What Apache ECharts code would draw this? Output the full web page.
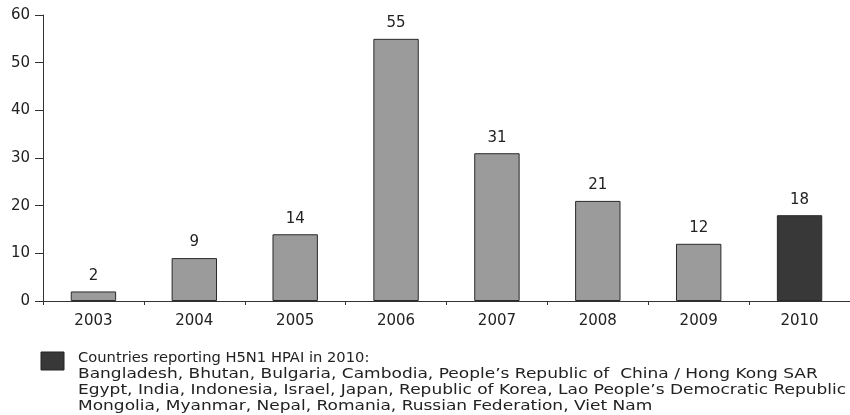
<!DOCTYPE html>
<html>
<head>
<meta charset="utf-8">
<script src="https://cdn.jsdelivr.net/npm/echarts@6/dist/echarts.min.js"></script>
<style>
  html, body { margin: 0; padding: 0; background: #fff; }
  #chart { width: 850px; height: 415px; }
</style>
</head>
<body>
<div id="chart"></div>
<script>
// data
const years = ["2003", "2004", "2005", "2006", "2007", "2008", "2009", "2010"];
const countryCounts = [2, 9, 14, 55, 31, 21, 12, 18];
const yTicks = [0, 10, 20, 30, 40, 50, 60];
const legendTitle = "Countries reporting H5N1 HPAI in 2010:";
const legendLines = [
  "Bangladesh, Bhutan, Bulgaria, Cambodia, People\u2019s Republic of  China / Hong Kong SAR",
  "Egypt, India, Indonesia, Israel, Japan, Republic of Korea, Lao People\u2019s Democratic Republic",
  "Mongolia, Myanmar, Nepal, Romania, Russian Federation, Viet Nam",
];

const numFont = "DejaVu Sans";
const grayBar = "#9b9b9b";
const darkBar = "#383838";

const chart = echarts.init(document.getElementById("chart"));

const option = {
  animation: false,
  grid: { left: 43, right: -1, top: 15, bottom: 114 },
  xAxis: {
    type: "category",
    data: years,
    axisLine: { lineStyle: { color: "#333", width: 1 } },
    axisTick: { show: true, length: 4, lineStyle: { color: "#333" } },
    axisLabel: { color: "#222", fontSize: 15, fontFamily: numFont, margin: 13 },
  },
  yAxis: {
    type: "value",
    min: yTicks[0],
    max: yTicks[yTicks.length - 1],
    interval: 10,
    splitLine: { show: false },
    axisLine: { show: true, lineStyle: { color: "#333", width: 1 } },
    axisTick: { show: true, length: 8, lineStyle: { color: "#333" } },
    axisLabel: { color: "#222", fontSize: 15, fontFamily: numFont, margin: 13 },
  },
  series: [
    {
      type: "bar",
      barWidth: "45%",
      data: countryCounts.map((v, i) => ({
        value: v,
        itemStyle: { color: i === years.length - 1 ? darkBar : grayBar },
      })),
      itemStyle: { borderColor: "#2a2a2a", borderWidth: 1 },
      label: {
        show: true,
        position: "top",
        distance: 8,
        color: "#222",
        fontSize: 15,
        fontFamily: numFont,
      },
    },
  ],
  graphic: [
    {
      type: "rect",
      x: 41,
      y: 352,
      shape: { width: 23, height: 18 },
      style: { fill: darkBar, stroke: "#222", lineWidth: 1 },
    },
    {
      type: "text",
      x: 78,
      y: 358,
      scaleX: 1.05,
      style: {
        text: legendTitle,
        fill: "#222",
        font: "14px DejaVu Sans",
        verticalAlign: "middle",
      },
    },
  ].concat(
    legendLines.map((t, i) => ({
      type: "text",
      x: 78,
      y: 374 + i * 16,
      scaleX: 1.215,
      style: {
        text: t,
        fill: "#222",
        font: "14px DejaVu Sans",
        verticalAlign: "middle",
      },
    }))
  ),
};

chart.setOption(option);
</script>
</body>
</html>
